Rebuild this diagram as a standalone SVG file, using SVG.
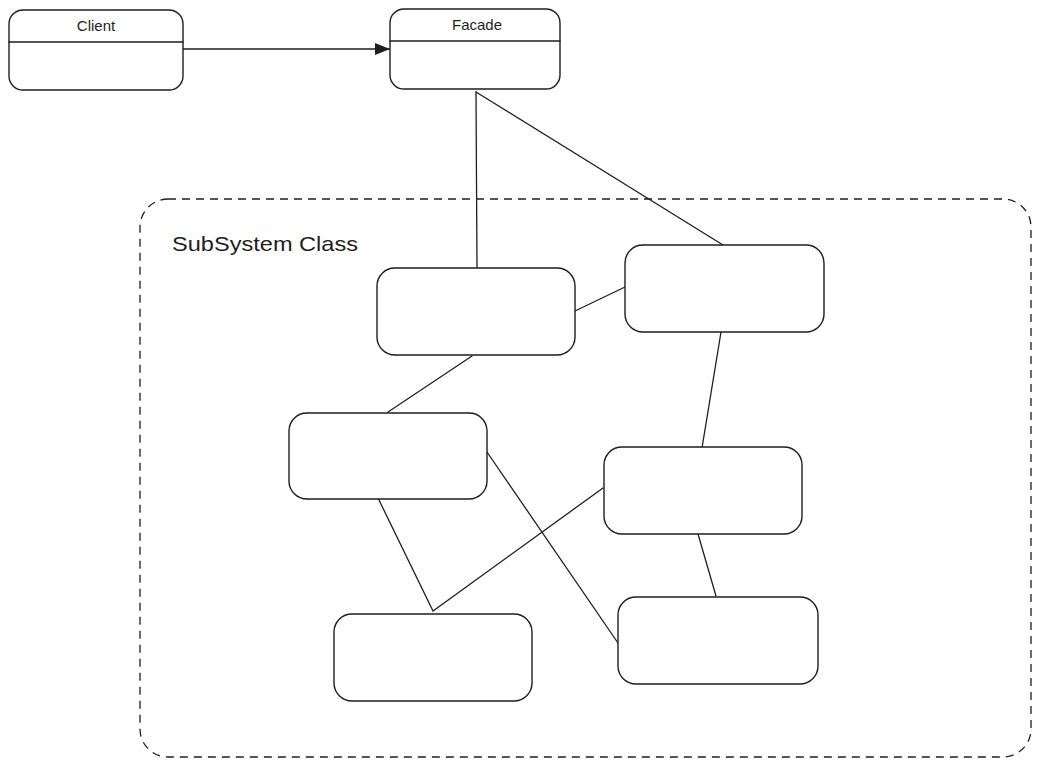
<svg xmlns="http://www.w3.org/2000/svg" width="1040" height="767" viewBox="0 0 1040 767">
<defs>
<style>
.box{fill:#ffffff;stroke:#1e1e1e;stroke-width:1.4}
.ln{fill:none;stroke:#1e1e1e;stroke-width:1.3;stroke-linecap:round}
.lbl{font-family:"Liberation Sans",Arial,sans-serif;fill:#1e1e1e}
</style>
<marker id="arr" markerWidth="16" markerHeight="12" refX="15" refY="6" orient="auto" markerUnits="userSpaceOnUse">
<path d="M0,0 L15,6 L0,12 Z" fill="#1e1e1e"/>
</marker>
</defs>
<rect width="1040" height="767" fill="#ffffff"/>
<g id="subsystem">
<rect x="140" y="199" width="891" height="558" rx="28" ry="28" fill="none" stroke="#1e1e1e" stroke-width="1.3" stroke-dasharray="8 6"/>
<text class="lbl" x="172" y="251" font-size="21" textLength="186" lengthAdjust="spacingAndGlyphs">SubSystem Class</text>
</g>
<g id="connectors">
<path class="ln" d="M183,49 L390,49" marker-end="url(#arr)"/>
<path class="ln" d="M476,92 L477,268"/>
<path class="ln" d="M476,92 L723,245"/>
<path class="ln" d="M575,311 L625,287"/>
<path class="ln" d="M472,356 L388,412"/>
<path class="ln" d="M721,332 L702,448"/>
<path class="ln" d="M378,498 L433,611 L603,488"/>
<path class="ln" d="M487,452 L618,643"/>
<path class="ln" d="M698,534 L716,596"/>
</g>
<g id="client">
<rect class="box" x="9" y="10" width="174" height="80" rx="14"/>
<line class="ln" x1="9" y1="42" x2="183" y2="42"/>
<text class="lbl" x="96" y="31" font-size="15" text-anchor="middle">Client</text>
</g>
<g id="facade">
<rect class="box" x="390" y="9" width="170" height="80" rx="14"/>
<line class="ln" x1="390" y1="41" x2="560" y2="41"/>
<text class="lbl" x="477" y="30" font-size="15" text-anchor="middle">Facade</text>
</g>
<g id="classA"><rect class="box" x="377" y="268" width="198" height="87" rx="18"/></g>
<g id="classB"><rect class="box" x="625" y="245" width="199" height="87" rx="18"/></g>
<g id="classC"><rect class="box" x="289" y="413" width="198" height="86" rx="18"/></g>
<g id="classD"><rect class="box" x="604" y="447" width="198" height="87" rx="18"/></g>
<g id="classE"><rect class="box" x="334" y="614" width="198" height="87" rx="18"/></g>
<g id="classF"><rect class="box" x="618" y="597" width="200" height="87" rx="18"/></g>
</svg>
